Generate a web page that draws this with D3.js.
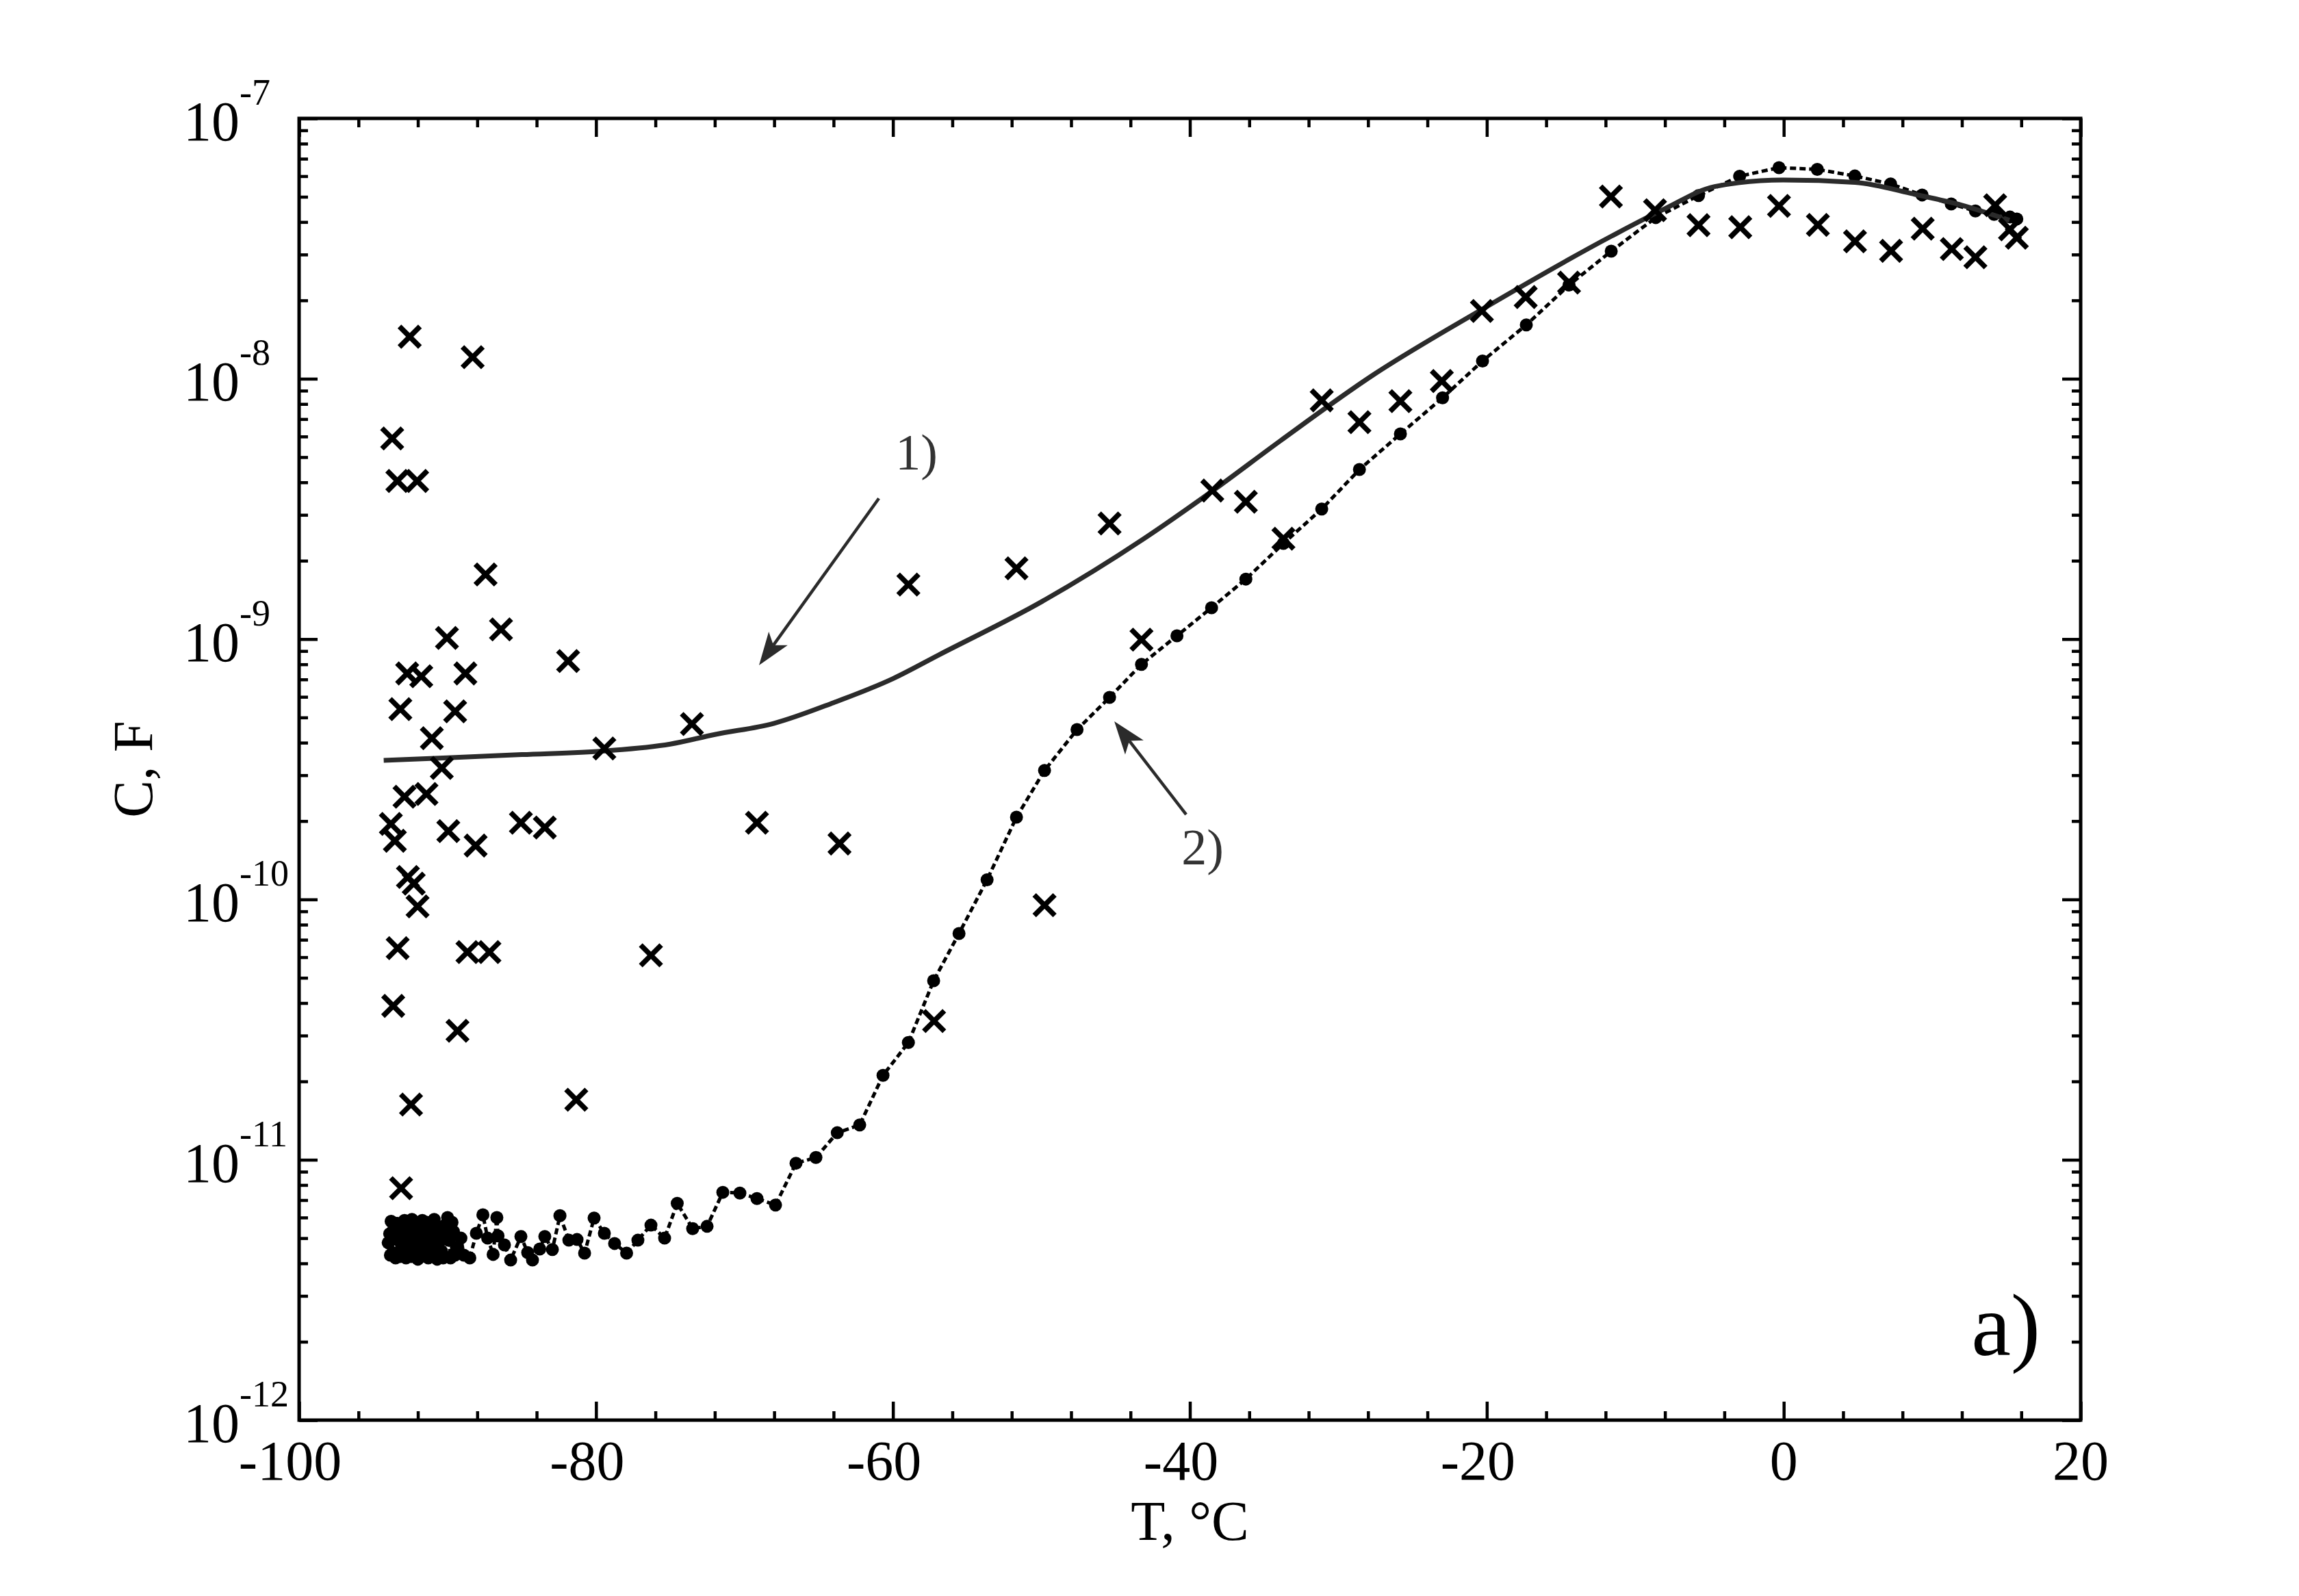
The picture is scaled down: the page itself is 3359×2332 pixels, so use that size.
<!DOCTYPE html>
<html>
<head>
<meta charset="utf-8">
<script src="https://cdn.jsdelivr.net/npm/d3@7"></script>
<style>
    body { margin: 0; background: #fff; }
    text { font-family: "Liberation Serif", "Times New Roman", serif; }
</style>
</head>
<body>
<script>
// temperatures (°C) and capacitance (F)

let dotT = [
    -94.0, -93.85, -93.6, -93.4, -93.2, -93.25, -92.95, -92.7, -92.65, -92.45,
    -92.15, -92.1, -91.85, -91.75, -91.4, -91.35, -91.1, -90.85, -90.75, -90.5,
    -90.3, -90.1, -89.7, -89.5,
    -93.9, -93.7, -93.8, -93.5, -93.3, -93.6, -93.1, -92.9, -92.8, -93.0,
    -92.6, -92.5, -92.3, -92.4, -92.0, -92.2, -91.9, -91.7, -91.6, -91.5,
    -91.3, -91.2, -91.0, -90.9, -90.7, -90.6, -90.4, -90.2, -89.9, -90.0,
    -89.8, -89.6, -89.4, -89.1, -88.9, -88.5, -88.06, -87.62, -87.3, -86.93,
    -86.68, -86.6, -86.17, -85.75, -85.06, -84.6, -84.28, -83.79, -83.45, -82.94,
    -82.43, -81.83, -81.28, -80.77, -80.13, -79.44, -78.75, -77.94, -77.18, -76.30,
    -75.38, -74.53, -73.49, -72.52, -71.46, -70.31, -69.16, -67.91, -66.53, -65.19,
    -63.75, -62.24, -60.67, -58.96, -57.26, -55.55, -53.66, -51.68, -49.79, -47.60,
    -45.41, -43.26, -40.87, -38.54, -36.23, -33.70, -31.12, -28.58, -25.82, -22.98,
    -20.29, -17.34, -14.46, -11.62, -8.62, -5.74, -2.97, -0.32, 2.26, 4.79,
    7.20, 9.32, 11.28, 12.91, 14.17, 15.24, 15.70
];
let dotC = [
    4.8e-12, 4.3e-12, 5.0e-12, 5.7e-12, 4.25e-12, 5.4e-12, 4.75e-12, 5.7e-12, 5.05e-12, 4.25e-12,
    5.6e-12, 4.95e-12, 4.25e-12, 4.75e-12, 5.75e-12, 4.55e-12, 5.1e-12, 4.35e-12, 5.45e-12, 4.9e-12,
    4.2e-12, 5.2e-12, 5.75e-12, 4.3e-12,
    5.2e-12, 4.4e-12, 5.8e-12, 4.2e-12, 4.9e-12, 5.5e-12, 4.6e-12, 5.85e-12, 4.2e-12, 5.2e-12,
    4.4e-12, 5.5e-12, 4.9e-12, 5.9e-12, 4.15e-12, 4.6e-12, 5.3e-12, 5.85e-12, 4.4e-12, 5.0e-12,
    4.2e-12, 5.5e-12, 4.7e-12, 5.9e-12, 4.15e-12, 5.2e-12, 4.45e-12, 5.6e-12, 4.9e-12, 6.0e-12,
    4.2e-12, 5.3e-12, 4.6e-12, 5.0e-12, 4.3e-12, 4.2e-12, 5.22e-12, 6.15e-12, 5.0e-12, 4.33e-12,
    6.0e-12, 5.1e-12, 4.71e-12, 4.12e-12, 5.07e-12, 4.4e-12, 4.12e-12, 4.54e-12, 5.07e-12, 4.52e-12,
    6.1e-12, 4.91e-12, 4.94e-12, 4.38e-12, 5.97e-12, 5.22e-12, 4.77e-12, 4.38e-12, 4.91e-12, 5.61e-12,
    5.0e-12, 6.8e-12, 5.44e-12, 5.55e-12, 7.5e-12, 7.45e-12, 7.1e-12, 6.7e-12, 9.7e-12, 1.02e-11,
    1.27e-11, 1.36e-11, 2.11e-11, 2.82e-11, 4.87e-11, 7.4e-11, 1.19e-10, 2.07e-10, 3.13e-10, 4.49e-10,
    5.97e-10, 8.0e-10, 1.03e-9, 1.32e-9, 1.70e-9, 2.33e-9, 3.16e-9, 4.48e-9, 6.14e-9, 8.45e-9,
    1.17e-8, 1.61e-8, 2.29e-8, 3.09e-8, 4.16e-8, 5.05e-8, 6.0e-8, 6.47e-8, 6.37e-8, 6.01e-8,
    5.6e-8, 5.08e-8, 4.69e-8, 4.41e-8, 4.28e-8, 4.18e-8, 4.11e-8
];

let crossT = [
    -92.55, -88.31, -93.73, -93.38, -92.05, -87.44, -86.40, -90.04, -81.88, -92.72,
    -91.77, -88.80, -93.18, -89.49, -91.06, -79.44, -73.54, -90.39, -92.90, -91.42,
    -93.82, -93.55, -89.95, -88.11, -85.06, -83.45, -69.16, -63.60, -92.67, -92.28,
    -92.02, -93.36, -88.66, -87.18, -76.30, -93.66, -89.33, -92.46, -81.33, -93.13,
    -58.96, -51.68, -45.41, -43.26, -49.79, -57.23, -38.49, -36.23, -33.70, -31.12,
    -28.58, -25.82, -23.03, -20.33, -17.38, -14.46, -11.64, -8.67, -5.74, -2.93,
    -0.32, 2.30, 4.80, 7.23, 9.36, 11.32, 12.91, 14.24, 15.24, 15.70
];
let crossC = [
    1.45e-8, 1.21e-8, 5.9e-9, 4.05e-9, 4.05e-9, 1.77e-9, 1.09e-9, 1.01e-9, 8.24e-10, 7.38e-10,
    7.2e-10, 7.38e-10, 5.38e-10, 5.28e-10, 4.16e-10, 3.8e-10, 4.72e-10, 3.2e-10, 2.48e-10, 2.54e-10,
    1.95e-10, 1.68e-10, 1.83e-10, 1.61e-10, 1.97e-10, 1.89e-10, 1.97e-10, 1.64e-10, 1.22e-10, 1.15e-10,
    9.4e-11, 6.5e-11, 6.28e-11, 6.28e-11, 6.1e-11, 3.9e-11, 3.13e-11, 1.63e-11, 1.7e-11, 7.78e-12,
    1.62e-9, 1.87e-9, 2.78e-9, 9.95e-10, 9.5e-11, 3.41e-11, 3.72e-9, 3.37e-9, 2.43e-9, 8.26e-9,
    6.81e-9, 8.2e-9, 9.8e-9, 1.82e-8, 2.06e-8, 2.34e-8, 5.01e-8, 4.44e-8, 3.89e-8, 3.82e-8,
    4.61e-8, 3.9e-8, 3.37e-8, 3.1e-8, 3.77e-8, 3.15e-8, 2.93e-8, 4.64e-8, 3.75e-8, 3.48e-8
];

let fitT = [-94.3, -90, -85, -79.4, -75, -72, -68, -64, -60, -56.9, -50.0, -43.1, -38.5, -33.9, -27.7, -20.3, -11.6, -8.0, -4.66, -0.05, 4.8, 8.9, 12.0, 15.2];
let fitC = [3.42e-10, 3.5e-10, 3.6e-10, 3.72e-10, 3.95e-10, 4.3e-10, 4.75e-10, 5.7e-10, 7.05e-10, 8.7e-10, 1.39e-9, 2.43e-9, 3.7e-9, 5.78e-9, 1.03e-8, 1.85e-8, 3.53e-8, 4.5e-8, 5.47e-8, 5.8e-8, 5.68e-8, 5.1e-8, 4.64e-8, 4.06e-8];

let xTicks = [-100, -80, -60, -40, -20, 0, 20];
let xTickLabels = ["-100", "-80", "-60", "-40", "-20", "0", "20"];
let yTicks = [1e-12, 1e-11, 1e-10, 1e-9, 1e-8, 1e-7];
let yTickExp = ["-12", "-11", "-10", "-9", "-8", "-7"];

// annotations: [T, C]
let arrow1 = [[-60.95, 3.47e-9], [-69.02, 7.94e-10]];
let arrow2 = [[-40.25, 2.12e-10], [-45.09, 4.83e-10]];
let label1 = [-59.84, 4.48e-9];
let label2 = [-40.57, 1.36e-10];
let panelLabel = [12.63, 1.78e-12];


let W = 3359, H = 2332;
let pLeft = 437, pRight = 3040, pTop = 173, pBottom = 2075;

let x = d3.scaleLinear().domain([-100, 20]).range([pLeft, pRight]);
let y = d3.scaleLog().domain([1e-12, 1e-7]).range([pBottom, pTop]);

let svg = d3.select('body').append('svg')
    .attr('width', W)
    .attr('height', H);

svg.append('rect').attr('width', W).attr('height', H).attr('fill', '#fff');

let xMinor = d3.range(-96, 20, 4).filter(d => d % 20 !== 0);
let yMinor = [];
yTicks.slice(0, -1).forEach(d => {
    for (let k = 2; k < 10; k++) yMinor.push(d * k);
});

let styleAxis = (g) => {
    g.select('.domain').remove();
    g.selectAll('line').attr('stroke', '#000').attr('stroke-width', 4.5);
};

let addAxis = (axisFn, scale, vals, size, transform) => {
    svg.append('g')
        .attr('transform', transform)
        .call(axisFn(scale).tickValues(vals).tickSize(-size).tickFormat(''))
        .call(styleAxis);
};

addAxis(d3.axisBottom, x, xTicks, 27, `translate(0,${pBottom})`);
addAxis(d3.axisBottom, x, xMinor, 13, `translate(0,${pBottom})`);
addAxis(d3.axisTop, x, xTicks, 27, `translate(0,${pTop})`);
addAxis(d3.axisTop, x, xMinor, 13, `translate(0,${pTop})`);
addAxis(d3.axisLeft, y, yTicks, 27, `translate(${pLeft},0)`);
addAxis(d3.axisLeft, y, yMinor, 13, `translate(${pLeft},0)`);
addAxis(d3.axisRight, y, yTicks, 27, `translate(${pRight},0)`);
addAxis(d3.axisRight, y, yMinor, 13, `translate(${pRight},0)`);

svg.append('rect')
    .attr('x', pLeft).attr('y', pTop)
    .attr('width', pRight - pLeft).attr('height', pBottom - pTop)
    .attr('fill', 'none')
    .attr('stroke', '#000')
    .attr('stroke-width', 5);

// x tick labels, digits centred on the tick
svg.selectAll('.xlab').data(xTicks).enter().append('text')
    .attr('class', 'xlab')
    .attr('x', d => x(d) - (d < 0 ? 13 : 0))
    .attr('y', pBottom + 87)
    .attr('text-anchor', 'middle')
    .attr('font-size', 82)
    .attr('fill', '#000')
    .text((d, i) => xTickLabels[i]);

// y tick labels 10^n
let ylab = svg.selectAll('.ylab').data(yTicks).enter().append('text')
    .attr('class', 'ylab')
    .attr('x', pLeft - 169)
    .attr('y', d => y(d) + 32)
    .attr('font-size', 82)
    .attr('fill', '#000');
ylab.append('tspan').text('10');
ylab.append('tspan')
    .attr('font-size', 54)
    .attr('dy', -52)
    .text((d, i) => yTickExp[i]);

svg.append('text')
    .attr('x', (pLeft + pRight) / 2)
    .attr('y', 2250)
    .attr('text-anchor', 'middle')
    .attr('font-size', 82)
    .text('T, °C');

svg.append('text')
    .attr('transform', `translate(222,${(pTop + pBottom) / 2}) rotate(-90)`)
    .attr('text-anchor', 'middle')
    .attr('font-size', 82)
    .text('C, F');

// series 2: dotted line with filled circles
let dots = dotT.map((t, i) => [t, dotC[i]]);
let line = d3.line().x(d => x(d[0])).y(d => y(d[1]));

svg.append('path')
    .attr('d', line(dots))
    .attr('fill', 'none')
    .attr('stroke', '#000')
    .attr('stroke-width', 5)
    .attr('stroke-dasharray', '9,5');

svg.selectAll('.dot').data(dots).enter().append('circle')
    .attr('class', 'dot')
    .attr('cx', d => x(d[0]))
    .attr('cy', d => y(d[1]))
    .attr('r', 9.5)
    .attr('fill', '#000');

// series 1: fitted solid curve
let fit = fitT.map((t, i) => [t, fitC[i]]);
svg.append('path')
    .attr('d', line.curve(d3.curveMonotoneX)(fit))
    .attr('fill', 'none')
    .attr('stroke', '#2b2b2b')
    .attr('stroke-width', 7);

// crosses
let cross = crossT.map((t, i) => [t, crossC[i]]);
let s = 15;
svg.selectAll('.cross').data(cross).enter().append('path')
    .attr('class', 'cross')
    .attr('transform', d => `translate(${x(d[0])},${y(d[1])})`)
    .attr('d', `M${-s},${-s}L${s},${s}M${-s},${s}L${s},${-s}`)
    .attr('stroke', '#000')
    .attr('stroke-width', 7.5)
    .attr('fill', 'none');

// arrows
let drawArrow = (a) => {
    let x0 = x(a[0][0]), y0 = y(a[0][1]);
    let x1 = x(a[1][0]), y1 = y(a[1][1]);
    let ang = Math.atan2(y1 - y0, x1 - x0);
    let len = 48, half = 17, notch = 36;
    let bx = x1 - len * Math.cos(ang), by = y1 - len * Math.sin(ang);
    let nx = x1 - notch * Math.cos(ang), ny = y1 - notch * Math.sin(ang);
    let px = -Math.sin(ang) * half, py = Math.cos(ang) * half;
    svg.append('line')
        .attr('x1', x0).attr('y1', y0)
        .attr('x2', nx).attr('y2', ny)
        .attr('stroke', '#2b2b2b')
        .attr('stroke-width', 4.5);
    svg.append('path')
        .attr('d', `M${x1},${y1}L${bx + px},${by + py}L${nx},${ny}L${bx - px},${by - py}Z`)
        .attr('fill', '#2b2b2b');
};
drawArrow(arrow1);
drawArrow(arrow2);

svg.append('text')
    .attr('x', x(label1[0])).attr('y', y(label1[1]))
    .attr('font-size', 74).attr('fill', '#333')
    .text('1)');
svg.append('text')
    .attr('x', x(label2[0])).attr('y', y(label2[1]))
    .attr('font-size', 74).attr('fill', '#333')
    .text('2)');

svg.append('text')
    .attr('x', x(panelLabel[0])).attr('y', y(panelLabel[1]))
    .attr('font-size', 130).attr('fill', '#000')
    .text('a)');
</script>
</body>
</html>
